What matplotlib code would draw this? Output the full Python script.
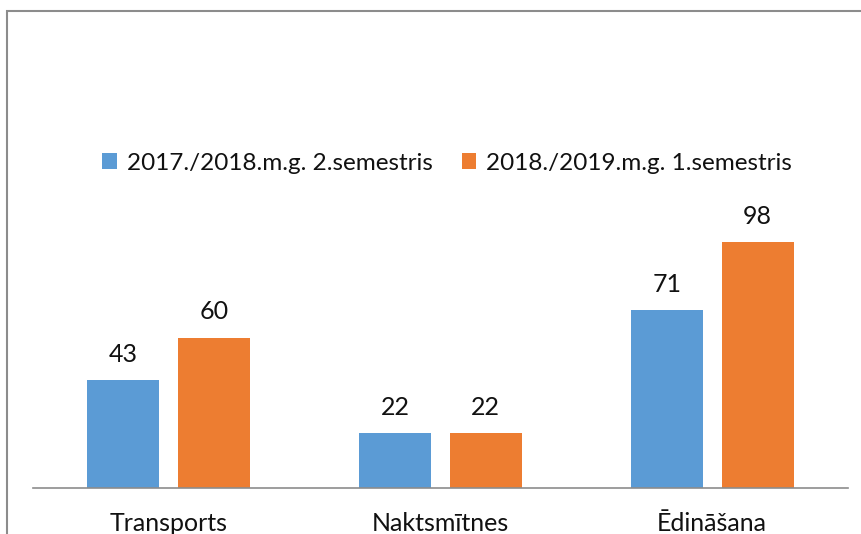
import numpy as np
import matplotlib.pyplot as plt
from matplotlib.patches import Rectangle

categories = ['Transports', 'Naktsmītnes', 'Ēdināšana']
series_names = ['2017./2018.m.g. 2.semestris', '2018./2019.m.g. 1.semestris']
values_a = [43, 22, 71]
values_b = [60, 22, 98]
colors = ['#5B9BD5', '#ED7D31']

plt.rcParams['font.family'] = ['Lato', 'DejaVu Sans']

W, H = 861, 534
fig = plt.figure(figsize=(W / 100, H / 100), dpi=100)

# chart border (cut off on the right and bottom in the reference)
fig.patches.append(Rectangle((7 / W, -0.1), 1.2, 1 - 11 / H + 0.1, transform=fig.transFigure,
                             fill=False, edgecolor='#8c8c8c', linewidth=1.5))

# plot area: x from 33 to 848 px, baseline at 488 px
ax = fig.add_axes([33 / W, (H - 488) / H, 815 / W, 301 / H])
x = np.arange(len(categories))
w = 0.265
off = 0.167
bars_a = ax.bar(x - off, values_a, w, color=colors[0], label=series_names[0])
bars_b = ax.bar(x + off, values_b, w, color=colors[1], label=series_names[1])

for bars in (bars_a, bars_b):
    for b in bars:
        ax.text(b.get_x() + b.get_width() / 2, b.get_height() + 10.2, str(int(b.get_height())),
                ha='center', va='center', fontsize=18, color='#111111')

ax.set_xlim(-0.5, 2.5)
ax.set_ylim(0, 120)
ax.set_yticks([])
ax.set_xticks(x)
ax.set_xticklabels(categories, fontsize=18, color='#111111')
ax.tick_params(axis='x', length=0, pad=17)
for s in ['top', 'right', 'left']:
    ax.spines[s].set_visible(False)
ax.spines['bottom'].set_color('#8c8c8c')
ax.spines['bottom'].set_linewidth(1.2)

fig.legend(loc='center', bbox_to_anchor=(447 / W, 1 - 163 / H), ncol=2, frameon=False,
           fontsize=17.5, handlelength=0.6, handleheight=0.6, handletextpad=0.4,
           columnspacing=1.2, labelcolor='#111111')

fig.savefig('out.png', dpi=100)
